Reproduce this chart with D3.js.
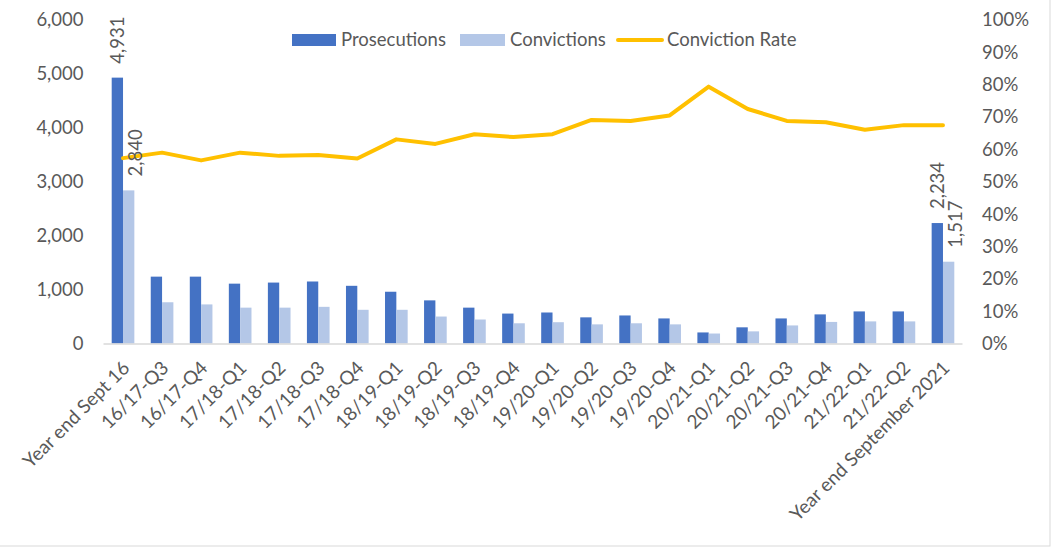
<!DOCTYPE html>
<html>
<head>
<meta charset="utf-8">
<script src="https://cdn.jsdelivr.net/npm/d3@7"></script>
<style>
  body { margin: 0; background: #fff; }
  svg { display: block; font-family: Lato, "Open Sans", sans-serif; }
  .tick text { fill: #595959; }
</style>
</head>
<body>
<div id="chart"></div>
<script>
var categories = ["Year end Sept 16", "16/17-Q3", "16/17-Q4", "17/18-Q1", "17/18-Q2", "17/18-Q3",
    "17/18-Q4", "18/19-Q1", "18/19-Q2", "18/19-Q3", "18/19-Q4", "19/20-Q1", "19/20-Q2",
    "19/20-Q3", "19/20-Q4", "20/21-Q1", "20/21-Q2", "20/21-Q3", "20/21-Q4", "21/22-Q1",
    "21/22-Q2", "Year end September 2021"];
var prosecutions = [4931, 1240, 1240, 1110, 1130, 1150, 1070, 960, 800, 665, 555,
    575, 485, 520, 465, 205, 300, 465, 540, 595, 595, 2234];
var convictions = [2840, 765, 725, 665, 665, 680, 625, 625, 500, 445, 375,
    395, 355, 375, 355, 185, 225, 335, 400, 410, 410, 1517];
var convictionRate = [0.573, 0.590, 0.566, 0.590, 0.580, 0.583, 0.572, 0.631, 0.617, 0.647, 0.638,
    0.647, 0.691, 0.688, 0.705, 0.794, 0.725, 0.688, 0.684, 0.661, 0.675, 0.675];
var labelledPoints = [0, 21];   // only first and last groups carry data labels
var countTicks = [0, 1000, 2000, 3000, 4000, 5000, 6000];
var rateTicks = [0, 0.1, 0.2, 0.3, 0.4, 0.5, 0.6, 0.7, 0.8, 0.9, 1];

var W = 1052, H = 549;
// note: "top" is taken by window.top, so plot edges get their own names
var plotL = 103.5, plotR = 962.5, plotT = 20, plotB = 343.5;
var fontSize = 18.5;
var grey = "#595959";

var svg = d3.select("#chart").append("svg").attr("width", W).attr("height", H);

// chart frame
svg.append("rect").attr("x", -1).attr("y", -1).attr("width", 1051).attr("height", 547)
    .attr("fill", "none").attr("stroke", "#d9d9d9");

var x = d3.scaleBand().domain(categories).range([plotL, plotR]);
var x1 = d3.scaleBand().domain(["p", "c"]).range([x.bandwidth() * 0.21, x.bandwidth() * 0.79]);
var y = d3.scaleLinear().domain([0, 6000]).range([plotB, plotT]);
var y2 = d3.scaleLinear().domain([0, 1]).range([plotB, plotT]);

// left axis
var yAxis = svg.append("g").attr("transform", "translate(" + (plotL - 20) + ",0)")
    .call(d3.axisLeft(y).tickValues(countTicks).tickSize(0).tickPadding(0).tickFormat(d3.format(",")));
yAxis.select(".domain").remove();
yAxis.selectAll("text").attr("font-size", fontSize).attr("font-family", "Lato");

// right axis
var y2Axis = svg.append("g").attr("transform", "translate(982,0)")
    .call(d3.axisRight(y2).tickValues(rateTicks).tickSize(0).tickPadding(0).tickFormat(d3.format(".0%")));
y2Axis.select(".domain").remove();
y2Axis.selectAll("text").attr("font-size", fontSize).attr("font-family", "Lato");

// bars
var groups = svg.append("g").selectAll("g").data(categories).join("g")
    .attr("transform", function(d) { return "translate(" + x(d) + ",0)"; });
groups.append("rect")
    .attr("x", x1("p")).attr("width", x1.bandwidth())
    .attr("y", function(d, i) { return y(prosecutions[i]); })
    .attr("height", function(d, i) { return plotB - y(prosecutions[i]); })
    .attr("fill", "#4472C4");
groups.append("rect")
    .attr("x", x1("c")).attr("width", x1.bandwidth())
    .attr("y", function(d, i) { return y(convictions[i]); })
    .attr("height", function(d, i) { return plotB - y(convictions[i]); })
    .attr("fill", "#B4C7E7");

// x axis line
svg.append("line").attr("x1", plotL).attr("x2", plotR).attr("y1", plotB + 0.5).attr("y2", plotB + 0.5)
    .attr("stroke", "#d9d9d9").attr("stroke-width", 1.5);

// x labels
svg.append("g").selectAll("text").data(categories).join("text")
    .attr("transform", function(d) {
        return "translate(" + (x(d) + x.bandwidth() / 2 + 3) + "," + (plotB + 21) + ") rotate(-45)";
    })
    .attr("text-anchor", "end").attr("dy", "0.35em")
    .attr("font-size", 19).attr("fill", grey)
    .text(function(d) { return d; });

// conviction rate line
var line = d3.line()
    .x(function(d, i) { return x(categories[i]) + x.bandwidth() / 2; })
    .y(function(d) { return y2(d); });
svg.append("path").datum(convictionRate)
    .attr("d", line).attr("fill", "none")
    .attr("stroke", "#FFC000").attr("stroke-width", 4).attr("stroke-linejoin", "round").attr("stroke-linecap", "round");

// data labels
var fmt = d3.format(",");
labelledPoints.forEach(function(i) {
    var gx = x(categories[i]);
    [["p", prosecutions[i], 0], ["c", convictions[i], 7]].forEach(function(s) {
        var cx = gx + x1(s[0]) + x1.bandwidth() / 2 + s[2];
        svg.append("text")
            .attr("transform", "translate(" + cx + "," + (y(s[1]) - 14) + ") rotate(-90)")
            .attr("dy", "0.35em")
            .attr("font-size", fontSize).attr("fill", grey)
            .text(fmt(s[1]));
    });
});

// legend
var legend = svg.append("g").attr("transform", "translate(292,40)");
legend.append("rect").attr("x", 0).attr("y", -6).attr("width", 44).attr("height", 12).attr("fill", "#4472C4");
legend.append("text").attr("x", 49).attr("dy", "0.35em").attr("font-size", fontSize).attr("fill", grey).text("Prosecutions");
legend.append("rect").attr("x", 168).attr("y", -6).attr("width", 45).attr("height", 12).attr("fill", "#B4C7E7");
legend.append("text").attr("x", 218).attr("dy", "0.35em").attr("font-size", fontSize).attr("fill", grey).text("Convictions");
legend.append("line").attr("x1", 326).attr("x2", 370).attr("y1", 0).attr("y2", 0)
    .attr("stroke", "#FFC000").attr("stroke-width", 4).attr("stroke-linecap", "round");
legend.append("text").attr("x", 375).attr("dy", "0.35em").attr("font-size", fontSize).attr("fill", grey).text("Conviction Rate");
</script>
</body>
</html>
